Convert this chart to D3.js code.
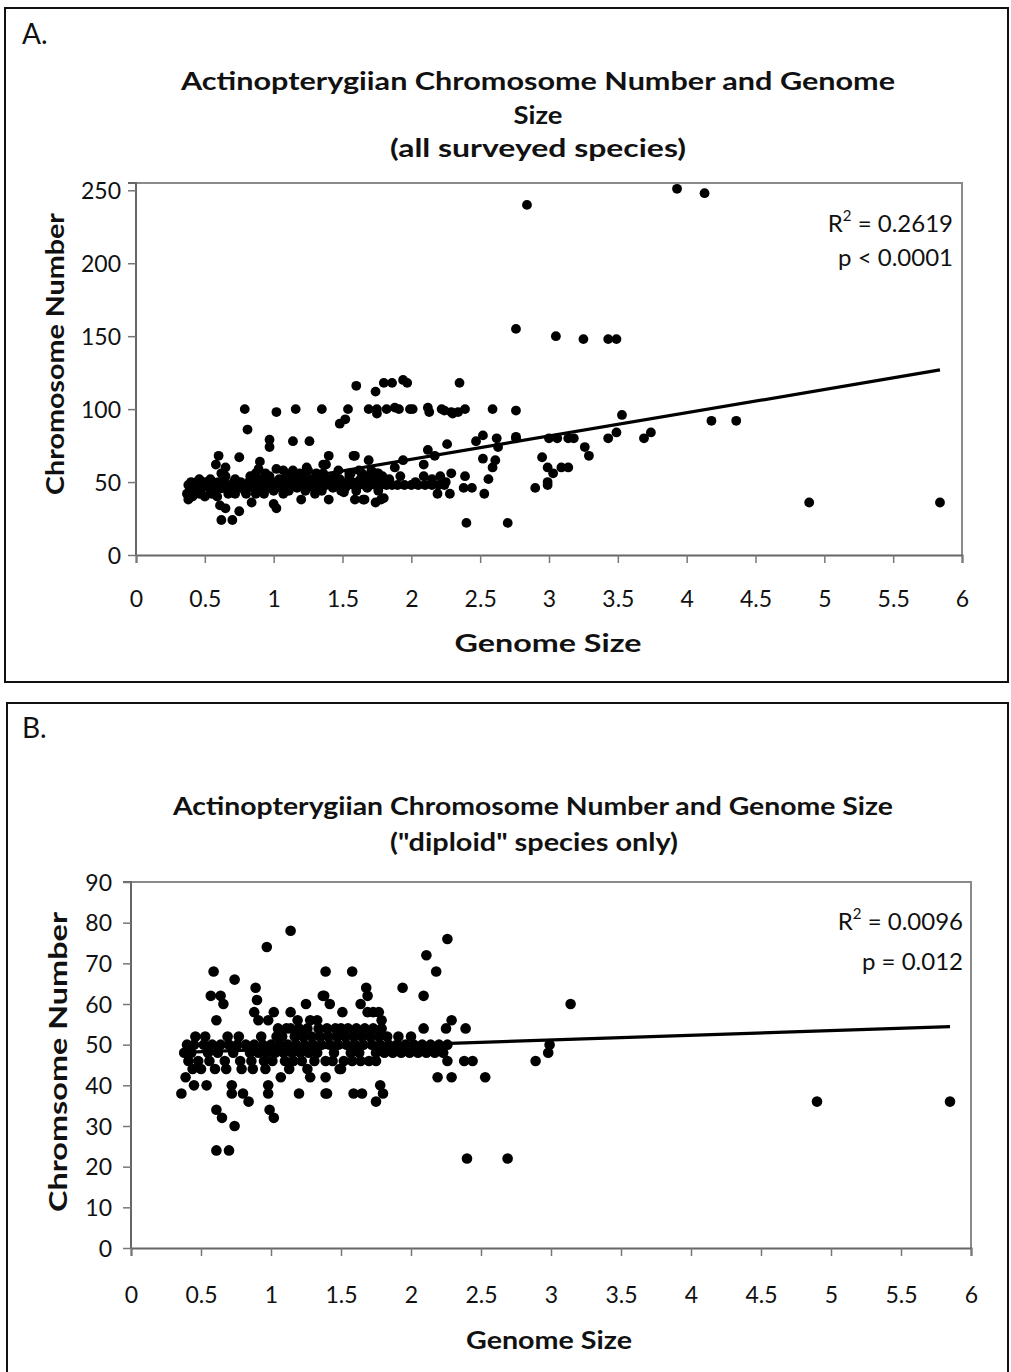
<!DOCTYPE html>
<html><head><meta charset="utf-8">
<script src="https://cdn.jsdelivr.net/npm/d3@7"></script>
<style>
body{margin:0;background:#fff;}
svg{display:block;}
text{font-family:Lato,"Open Sans",sans-serif;fill:#111;}
</style></head>
<body>
<script>
// ---------------- DATA ----------------
const xTicks = [0,0.5,1,1.5,2,2.5,3,3.5,4,4.5,5,5.5,6];
const xTickLabels = ["0","0.5","1","1.5","2","2.5","3","3.5","4","4.5","5","5.5","6"];
const yTicksA = [0,50,100,150,200,250];
const yTicksB = [0,10,20,30,40,50,60,70,80,90];

// Panel A: genome size vs chromosome number (all surveyed species)
const pointsA_outliers = [
 [3.93,251],[4.13,248],[2.84,240],[2.76,155],[3.05,150],[3.25,148],[3.43,148],[3.49,148],
 [1.60,116],[1.74,112],[1.80,118],[1.86,118],[1.94,120],[1.97,118],[2.35,118],
 [0.79,100],[1.02,98],[1.16,100],[1.35,100],[1.54,100],[1.69,100],[1.75,100],[1.82,100],[1.88,101],
 [1.91,100],[1.99,100],[2.01,100],[2.12,101],[2.13,98],[2.22,100],[2.24,99],[2.29,98],[2.30,97],
 [2.34,98],[2.39,100],[2.59,100],[2.76,99],[1.75,97],
 [0.81,86],[1.48,90],[1.52,93],[3.53,96],[4.18,92],[4.36,92],[3.74,84],[3.69,80],[3.43,80],[3.49,84],
 [3.26,74],[3.29,68],[3.00,80],[3.06,80],[3.14,80],[3.18,80],[2.95,67],[2.99,60],[3.03,56],[3.09,60],
 [3.14,60],[2.99,50],[2.99,48],[2.90,46],[4.89,36],[5.84,36],[2.40,22],[2.70,22],[2.76,81]
];
const pointsA_mid = [
 [0.97,79],[0.97,74],[1.14,78],[1.26,78],
 [0.60,68],[0.75,67],[0.58,62],[0.65,60],[0.62,56],[0.90,64],[1.40,68],[1.59,68],[1.38,62],[1.69,65],
 [0.89,59],[1.02,59],[1.14,58],[1.24,60],[1.36,62],
 [0.62,24],[0.70,24],[0.61,34],[0.65,32],[0.75,30],[0.84,36],[1.02,32],[1.00,35],[0.38,38],[1.20,38],
 [1.40,38],[1.59,38],[1.66,38],[1.74,36],[1.80,39],[1.07,42],[1.30,42],[1.51,43],[1.49,44],
 [2.19,42],[2.28,42],[2.38,46],[2.44,46],[2.53,42],[2.39,54],[2.56,52],[2.52,66],[2.61,65],[2.59,60],
 [2.26,76],[2.12,72],[2.17,68],[2.09,62],[2.09,54],[2.47,78],[2.52,82],[2.62,80],[2.63,74],[2.76,80],
 [1.88,60],[1.94,65],[1.58,68],[2.29,56],[2.21,54],[1.65,38],[1.78,38],
 [1.55,56],[1.62,58],[1.70,54],[1.76,56],[1.80,52],[1.84,52],[1.92,54],[2.03,50],[2.15,52],[2.25,50],
 [0.37,42],[0.41,40],[0.46,42],[0.50,40],[0.55,42],[0.59,40],[0.67,42],[0.72,42],[0.80,42],[0.87,42],[0.93,42]
];
const pointsA_band = [
 [0.38,48],[0.42,48],[0.45,48],[0.48,48],[0.52,48],[0.55,48],[0.58,48],[0.62,48],[0.66,48],[0.70,48],
 [0.73,48],[0.77,48],[0.80,48],[0.84,48],[0.88,48],[0.92,48],[0.95,48],[0.99,48],[1.03,48],[1.06,48],
 [1.10,48],[1.14,48],[1.18,48],[1.22,48],[1.26,48],[1.30,48],[1.34,48],[1.38,48],[1.42,48],[1.46,48],
 [1.50,48],[1.54,48],[1.58,48],[1.62,48],[1.66,48],[1.70,48],[1.74,48],[1.78,48],[1.82,48],[1.86,48],
 [1.90,48],[1.95,48],[2.00,48],[2.05,48],[2.10,48],[2.15,48],[2.20,48],[2.24,48],
 [0.40,50],[0.44,50],[0.50,50],[0.56,50],[0.60,50],[0.64,50],[0.71,50],[0.76,50],[0.82,50],[0.86,50],
 [0.93,50],[0.98,50],[1.02,50],[1.08,50],[1.12,50],[1.16,50],[1.20,50],[1.24,50],[1.28,50],[1.33,50],
 [1.37,50],[1.41,50],[1.45,50],[1.49,50],[1.53,50],[1.57,50],[1.61,50],[1.65,50],[1.69,50],[1.73,50],[1.77,50],
 [0.39,44],[0.43,46],[0.47,44],[0.53,46],[0.57,44],[0.63,46],[0.68,44],[0.74,46],[0.79,44],[0.85,46],
 [0.91,44],[0.96,46],[1.00,44],[1.05,46],[1.11,44],[1.17,46],[1.23,44],[1.29,46],[1.35,44],[1.43,46],
 [1.52,46],[1.60,44],[1.68,46],[1.76,44],
 [0.46,52],[0.54,52],[0.65,54],[0.72,52],[0.83,54],[0.90,52],[0.97,54],[1.04,52],[1.09,54],[1.15,52],
 [1.21,54],[1.27,52],[1.32,54],[1.39,52],[1.44,54],[1.48,52],[1.55,54],[1.63,52],[1.67,54],[1.72,52],[1.79,54],
 [0.87,56],[0.94,56],[1.07,58],[1.13,56],[1.19,56],[1.25,58],[1.31,56],[1.36,56],[1.47,58],[1.56,56],
 [1.64,56],[1.71,58],[1.75,56]
];
const trendA = [33.7, 15.95];      // intercept, slope
const statsA = ["R² = 0.2619", "p < 0.0001"];

// Panel B: "diploid" species only
const pointsB_outer = [
 [1.14,78],[0.97,74],[0.59,68],[0.74,66],[1.39,68],[1.58,68],[0.57,62],[0.64,62],[0.66,60],[0.61,56],
 [0.89,64],[0.90,61],[0.88,58],[0.91,56],[1.02,58],[0.98,56],[1.25,60],[1.38,62],[1.42,60],[1.51,58],
 [1.14,58],[1.19,56],[1.28,56],[1.33,56],[1.68,64],[1.69,62],[1.64,60],[1.37,62],[1.69,58],[1.73,58],
 [1.77,58],[1.79,56],[1.94,64],[2.09,62],[2.11,72],[2.18,68],[2.26,76],[2.09,54],[2.25,54],[2.29,56],
 [2.39,54],[2.26,46],[2.38,46],[2.44,46],[2.19,42],[2.29,42],[2.53,42],[2.40,22],[2.69,22],[2.89,46],
 [2.98,48],[2.99,50],[3.14,60],[4.90,36],[5.85,36],
 [0.36,38],[0.61,34],[0.65,32],[0.74,30],[0.61,24],[0.70,24],[0.80,38],[0.84,36],[0.98,40],[0.98,38],
 [0.99,34],[1.02,32],[1.20,38],[1.39,38],[1.07,42],[1.28,42],[1.39,42],[1.50,44],[0.45,40],[0.54,40],
 [0.72,40],[0.39,42],[0.72,38],[1.40,38],[1.59,38],[1.65,38],[1.78,40],[1.80,38],[1.75,36],[1.49,44],[1.75,46]
];
const pointsB_band = [
 [0.40,50],[0.45,50],[0.52,50],[0.58,50],[0.64,50],[0.70,50],[0.76,50],[0.82,50],[0.88,50],[0.94,50],
 [1.00,50],[1.06,50],[1.12,50],[1.18,50],[1.24,50],[1.30,50],[1.36,50],[1.42,50],[1.48,50],[1.54,50],
 [1.60,50],[1.66,50],[1.72,50],[1.78,50],[1.84,50],[1.90,50],[1.96,50],[2.02,50],[2.08,50],[2.14,50],
 [2.20,50],[2.26,50],
 [0.38,48],[0.43,48],[0.55,48],[0.62,48],[0.73,48],[0.85,48],[0.91,48],[0.97,48],[1.03,48],[1.09,48],
 [1.15,48],[1.21,48],[1.27,48],[1.33,48],[1.45,48],[1.57,48],[1.63,48],[1.75,48],[1.81,48],[1.87,48],
 [1.93,48],[1.99,48],[2.05,48],[2.11,48],[2.17,48],[2.23,48],
 [0.41,46],[0.48,46],[0.56,46],[0.67,46],[0.78,46],[0.86,46],[0.95,46],[1.01,46],[1.10,46],[1.16,46],
 [1.22,46],[1.31,46],[1.44,46],[1.52,46],[1.70,46],[1.39,46],[1.58,46],[1.64,46],
 [0.44,44],[0.50,44],[0.60,44],[0.68,44],[0.79,44],[0.87,44],[0.96,44],[1.13,44],[1.26,44],
 [0.46,52],[0.53,52],[0.69,52],[0.77,52],[0.93,52],[1.04,52],[1.08,52],[1.17,52],[1.23,52],[1.29,52],
 [1.35,52],[1.41,52],[1.47,52],[1.53,52],[1.59,52],[1.65,52],[1.71,52],[1.77,52],[1.83,52],[1.91,52],[2.00,52],
 [1.05,54],[1.11,54],[1.20,54],[1.34,54],[1.40,54],[1.46,54],[1.55,54],[1.61,54],[1.67,54],[1.73,54],
 [1.14,54],[1.26,54],[1.50,54],[1.79,54]
];
const trendB = [47.7, 1.15];
const statsB = ["R² = 0.0096", "p = 0.012"];

// ---------------- DRAW ----------------
const W = 1011, H = 1372;
const svg = d3.select("body").append("svg").attr("width", W).attr("height", H);

function panel(cfg) {
  const g = svg.append("g");
  g.append("rect").attr("x", cfg.box[0]).attr("y", cfg.box[1])
    .attr("width", cfg.box[2]).attr("height", cfg.box[3])
    .attr("fill", "none").attr("stroke", "#111").attr("stroke-width", 2);
  g.append("text").attr("x", cfg.letterPos[0]).attr("y", cfg.letterPos[1])
    .attr("font-size", 28).text(cfg.letter);

  cfg.title.forEach(t => {
    g.append("text").attr("x", t.cx).attr("y", t.y).attr("text-anchor", "middle")
      .attr("font-size", 24).attr("font-weight", "bold")
      .attr("textLength", t.w).attr("lengthAdjust", "spacingAndGlyphs").text(t.s);
  });

  const x = d3.scaleLinear().domain([0, 6]).range([cfg.plot.l, cfg.plot.r]);
  const y = d3.scaleLinear().domain([0, cfg.yMax]).range([cfg.plot.b, cfg.plot.t]);

  g.append("path")
    .attr("d", `M${cfg.plot.l},${cfg.plot.t}H${cfg.plot.r}V${cfg.plot.b}`)
    .attr("fill", "none").attr("stroke", "#8a8a8a").attr("stroke-width", 2);

  const xAxis = d3.axisBottom(x).tickValues(xTicks).tickSize(8)
    .tickFormat((d, i) => xTickLabels[i]);
  const gx = g.append("g").attr("transform", `translate(0,${cfg.plot.b})`).call(xAxis);
  gx.select(".domain").attr("stroke", "#666").attr("stroke-width", 2);
  gx.selectAll(".tick line").attr("stroke", "#777").attr("stroke-width", 1.5);
  gx.selectAll(".tick text").attr("font-size", 23).attr("font-family", "Lato")
    .attr("fill", "#222").attr("dy", null).attr("y", cfg.xLabelDy);

  const yAxis = d3.axisLeft(y).tickValues(cfg.yTicks).tickSize(8);
  const gy = g.append("g").attr("transform", `translate(${cfg.plot.l},0)`).call(yAxis);
  gy.select(".domain").attr("stroke", "#666").attr("stroke-width", 2)
    .attr("d", `M-8,${y(cfg.yMax)}H0V${cfg.plot.b}`);
  gy.selectAll(".tick line").attr("stroke", "#777").attr("stroke-width", 1.5);
  gy.selectAll(".tick text").attr("font-size", 23).attr("font-family", "Lato")
    .attr("fill", "#222").attr("x", cfg.yLabelDx).attr("dy", "0.35em");

  g.append("text").attr("x", cfg.xTitle.cx).attr("y", cfg.xTitle.y).attr("text-anchor", "middle")
    .attr("font-size", 24).attr("font-weight", "bold")
    .attr("textLength", cfg.xTitle.w).attr("lengthAdjust", "spacingAndGlyphs").text(cfg.xTitle.s);
  g.append("text").attr("transform", `translate(${cfg.yTitle.x},${cfg.yTitle.cy}) rotate(-90)`)
    .attr("text-anchor", "middle").attr("font-size", 25).attr("font-weight", "bold")
    .attr("textLength", cfg.yTitle.w).attr("lengthAdjust", "spacingAndGlyphs").text(cfg.yTitle.s);

  const pts = cfg.points;
  g.append("g").selectAll("circle").data(pts).join("circle")
    .attr("cx", d => x(d[0])).attr("cy", d => y(d[1])).attr("r", cfg.r).attr("fill", "#000");

  const ext = d3.extent(pts, d => d[0]);
  const line = d3.line().x(d => x(d)).y(d => y(cfg.trend[0] + cfg.trend[1] * d));
  g.append("path").attr("d", line(ext)).attr("fill", "none")
    .attr("stroke", "#000").attr("stroke-width", 3.2);

  cfg.stats.forEach((s, i) => {
    const t = g.append("text").attr("x", cfg.statPos[0]).attr("y", cfg.statPos[1] + i * cfg.statGap)
      .attr("text-anchor", "end").attr("font-size", 24).attr("fill", "#222");
    if (s.startsWith("R²")) {
      t.append("tspan").text("R");
      t.append("tspan").attr("font-size", 15).attr("dy", -11).text("2");
      t.append("tspan").attr("dy", 11).text(s.slice(2));
    } else t.text(s);
  });
}

panel({
  box: [5, 8, 1003, 674], letter: "A.", letterPos: [22, 44],
  title: [
    {s: "Actinopterygiian Chromosome Number and Genome", cx: 538, y: 90, w: 714},
    {s: "Size", cx: 538, y: 124, w: 49},
    {s: "(all surveyed species)", cx: 538, y: 157, w: 296}
  ],
  plot: {l: 136, r: 962, t: 183, b: 555}, yMax: 255, yTicks: yTicksA,
  xLabelDy: 52, yLabelDx: -15,
  xTitle: {s: "Genome Size", cx: 548, y: 652, w: 187},
  yTitle: {s: "Chromosome Number", x: 64, cy: 354, w: 282},
  points: pointsA_band.concat(pointsA_mid, pointsA_outliers), r: 4.9,
  trend: trendA, stats: statsA, statPos: [953, 232], statGap: 34
});

panel({
  box: [7, 703, 1001, 690], letter: "B.", letterPos: [22, 738],
  title: [
    {s: "Actinopterygiian Chromosome Number and Genome Size", cx: 533, y: 815, w: 720},
    {s: "(\"diploid\" species only)", cx: 534, y: 851, w: 288}
  ],
  plot: {l: 131, r: 971, t: 882, b: 1248}, yMax: 90, yTicks: yTicksB,
  xLabelDy: 55, yLabelDx: -19,
  xTitle: {s: "Genome Size", cx: 549, y: 1349, w: 166},
  yTitle: {s: "Chromsome Number", x: 67, cy: 1062, w: 300},
  points: pointsB_band.concat(pointsB_outer), r: 5.3,
  trend: trendB, stats: statsB, statPos: [963, 930], statGap: 40
});
</script>
</body></html>
